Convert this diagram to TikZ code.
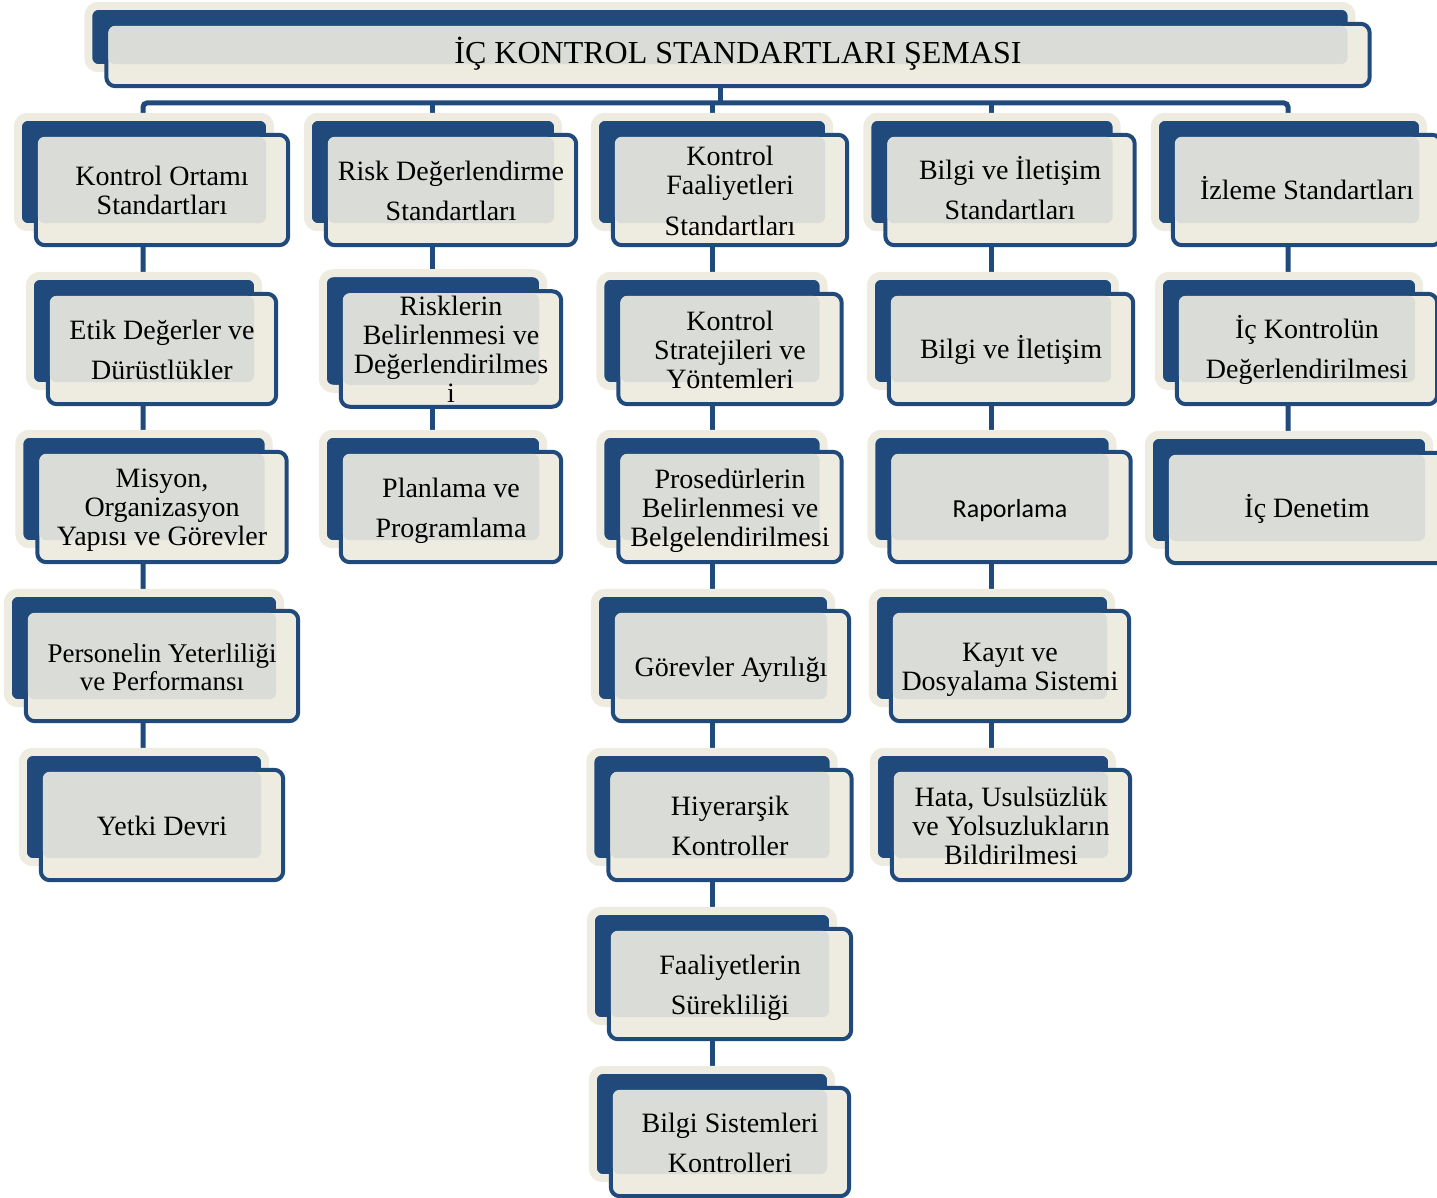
\documentclass[tikz,border=0pt]{standalone}
\usepackage{fontspec}
\setmainfont{Liberation Serif}
\newfontfamily\calibri{Carlito}
\usepackage{tikz}
\usetikzlibrary{backgrounds}

\definecolor{koyumavi}{RGB}{32,74,124}
\definecolor{krem}{RGB}{238,236,225}
\definecolor{acikgri}{RGB}{218,220,215}

\pgfdeclarelayer{arkalayer}
\pgfdeclarelayer{ortalayer}
\pgfsetlayers{background,arkalayer,ortalayer,main}

\tikzset{
  kutu/.style={inner sep=0pt,minimum height=110pt,align=center,
    font=\fontsize{28}{29}\selectfont,
    execute at begin node=\strut,execute at end node=\strut},
  arka/.style={fill=koyumavi,draw=krem,line width=8pt,rounded corners=10pt},
  on/.style={fill=krem,draw=koyumavi,line width=4pt,rounded corners=9pt},
  gri/.style={fill=acikgri,rounded corners=7pt},
  baglanti/.style={draw=koyumavi,line width=5pt}
}

% #1 dugum adi, #2 metnin asagi kaymasi
\newcommand{\cerceve}[2]{%
  \begin{pgfonlayer}{arkalayer}
    \draw[arka] ([shift={(-18,-18-#2)}]#1.north west) rectangle ([shift={(-18,-18-#2)}]#1.south east);
  \end{pgfonlayer}
  \begin{pgfonlayer}{ortalayer}
    \draw[on] ([shift={(0,-#2)}]#1.north west) rectangle ([shift={(0,-#2)}]#1.south east);
    \fill[gri] ([shift={(2,2-#2)}]#1.north west) rectangle ([shift={(-22,-22-#2)}]#1.south east);
  \end{pgfonlayer}
}

\begin{document}
\begin{tikzpicture}[x=1pt,y=-1pt]
\useasboundingbox (0,0) rectangle (1437,1198);

% baslik
\node[kutu,minimum width=1263pt,minimum height=62pt,font=\fontsize{32}{33}\selectfont] (baslik) at (738,55)
  {İÇ KONTROL STANDARTLARI ŞEMASI};

% kontrol ortami
\node[kutu,minimum width=252pt] (k11) at (162,195) {Kontrol Ortamı\\Standartları};
\node[kutu,minimum width=228pt] (k12) at (162,354) {Etik Değerler ve\\[11pt]Dürüstlükler};
\node[kutu,minimum width=249pt] (k13) at (162,512) {Misyon,\\Organizasyon\\Yapısı ve Görevler};
\node[kutu,minimum width=272pt,font=\fontsize{27}{28}\selectfont] (k14) at (162,671) {Personelin Yeterliliği\\ve Performansı};
\node[kutu,minimum width=242pt] (k15) at (162,830) {Yetki Devri};

% risk degerlendirme
\node[kutu,minimum width=250pt] (k21) at (451,195) {Risk Değerlendirme\\[11pt]Standartları};
\node[kutu,minimum width=220pt] (k22) at (451,354) {Risklerin\\Belirlenmesi ve\\Değerlendirilmes\\i};
\node[kutu,minimum width=220pt] (k23) at (451,512) {Planlama ve\\[11pt]Programlama};

% kontrol faaliyetleri
\node[kutu,minimum width=234pt] (k31) at (730,195) {Kontrol\\Faaliyetleri\\[12pt]Standartları};
\node[kutu,minimum width=223pt] (k32) at (730,354) {Kontrol\\Stratejileri ve\\Yöntemleri};
\node[kutu,minimum width=223pt] (k33) at (730,512) {Prosedürlerin\\Belirlenmesi ve\\Belgelendirilmesi};
\node[kutu,minimum width=236pt] (k34) at (731,671) {Görevler Ayrılığı};
\node[kutu,minimum width=243pt] (k35) at (730,830) {Hiyerarşik\\[11pt]Kontroller};
\node[kutu,minimum width=242pt] (k36) at (730,989) {Faaliyetlerin\\[11pt]Sürekliliği};
\node[kutu,minimum width=238pt,minimum height=108pt] (k37) at (730,1147) {Bilgi Sistemleri\\[11pt]Kontrolleri};

% bilgi ve iletisim
\node[kutu,minimum width=249pt] (k41) at (1010,192) {Bilgi ve İletişim\\[11pt]Standartları};
\node[kutu,minimum width=244pt] (k42) at (1011,351) {Bilgi ve İletişim};
\node[kutu,minimum width=241pt,font=\calibri\fontsize{26}{28}\selectfont] (k43) at (1010,512) {Raporlama};
\node[kutu,minimum width=238pt] (k44) at (1010,671) {Kayıt ve\\Dosyalama Sistemi};
\node[kutu,minimum width=238pt] (k45) at (1011,830) {Hata, Usulsüzlük\\ve Yolsuzlukların\\Bildirilmesi};

% izleme
\node[kutu,minimum width=268pt] (k51) at (1307,192) {İzleme Standartları};
\node[kutu,minimum width=260pt] (k52) at (1307,351) {İç Kontrolün\\[11pt]Değerlendirilmesi};
\node[kutu,minimum width=280pt] (k53) at (1307,510) {İç Denetim};

% kutu cerceveleri
\cerceve{baslik}{0}
\foreach \n in {k11,k12,k13,k14,k15,k21,k22,k23,k31,k32,k33,k34,k35,k36,k37,k43,k44,k45}
  {\cerceve{\n}{5}}
\foreach \n in {k41,k42,k51,k52,k53}
  {\cerceve{\n}{2}}

% baglantilar
\coordinate (sb) at (720,103);
\coordinate (s1) at (143,103);
\coordinate (s2) at (432,103);
\coordinate (s3) at (712,103);
\coordinate (s4) at (991,103);
\coordinate (s5) at (1288,103);
\begin{pgfonlayer}{background}
  \draw[baglanti] (baslik.center -| sb) -- (sb);
  \draw[baglanti,rounded corners=4pt] (k15.center -| s1) -- (s1) -- (s5) -- (k53.center -| s5);
  \draw[baglanti] (s2) -- (k23.center -| s2);
  \draw[baglanti] (s3) -- (k37.center -| s3);
  \draw[baglanti] (s4) -- (k45.center -| s4);
\end{pgfonlayer}

\end{tikzpicture}
\end{document}
